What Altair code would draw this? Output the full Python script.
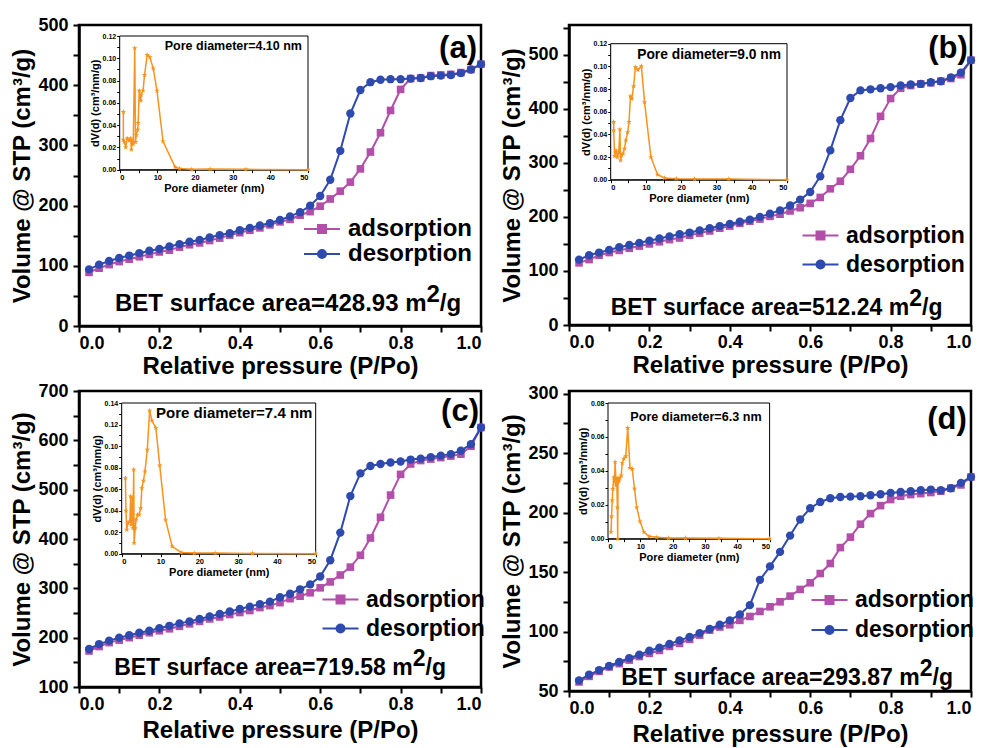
import altair as alt
import pandas as pd

FONT = "Liberation Sans"
C_ADS = "#B24FA8"
C_DES = "#2F4AAE"
C_PSD = "#F7931E"

# relative pressure grid (P/Po)
P = [0.025, 0.05, 0.075, 0.1, 0.125, 0.15, 0.175, 0.2, 0.225, 0.25,
     0.275, 0.3, 0.325, 0.35, 0.375, 0.4, 0.425, 0.45, 0.475, 0.5,
     0.525, 0.55, 0.575, 0.6, 0.625, 0.65, 0.675, 0.7, 0.725, 0.75,
     0.775, 0.8, 0.825, 0.85, 0.875, 0.9, 0.925, 0.95, 0.975, 1.0]

ADS_A = [89, 96, 102, 107, 111, 115, 119, 123, 126, 131, 135, 138, 142, 146, 151, 155, 159, 163, 168, 173,
         177, 184, 190, 199, 211, 224, 239, 261, 289, 321, 358, 393, 411, 412, 416, 417, 418, 421, 426, 435]
DES_A = [94, 102, 108, 113, 117, 121, 125, 128, 132, 136, 140, 143, 147, 151, 154, 159, 163, 167, 171, 176,
         182, 189, 200, 216, 243, 291, 353, 392, 405, 409, 410, 410, 411, 412, 415, 416, 417, 420, 426, 435]
ADS_B = [115, 121, 129, 134, 138, 142, 146, 150, 154, 158, 161, 166, 170, 174, 179, 183, 188, 192, 196, 201,
         205, 211, 217, 225, 236, 252, 266, 288, 313, 345, 386, 419, 438, 443, 446, 448, 451, 456, 463, 490]
DES_B = [121, 129, 134, 139, 144, 148, 152, 156, 160, 164, 168, 171, 175, 179, 183, 187, 191, 195, 200, 206,
         212, 221, 232, 246, 275, 323, 379, 420, 434, 436, 438, 440, 443, 445, 446, 449, 451, 458, 467, 490]
ADS_C = [173, 182, 190, 195, 200, 205, 210, 214, 218, 223, 228, 233, 238, 242, 247, 251, 255, 261, 265, 271,
         279, 284, 291, 301, 313, 327, 343, 367, 402, 444, 489, 531, 552, 559, 562, 565, 568, 572, 588, 626]
DES_C = [177, 187, 194, 200, 205, 210, 214, 219, 224, 229, 233, 238, 243, 248, 253, 258, 263, 268, 273, 282,
         289, 298, 308, 324, 357, 413, 487, 533, 548, 552, 555, 557, 561, 563, 566, 569, 572, 579, 592, 626]
ADS_D = [57.6, 62.3, 66.5, 70.2, 73, 76, 79, 81.6, 84.1, 87.5, 90, 93.4, 97, 101.2, 103.8, 105.7, 109.4, 112.7,
         116.9, 120.8, 125, 129.8, 135.4, 141, 148.8, 157.2, 170.6, 179.4, 190.3, 199.2, 205.9, 211, 213.8,
         215.2, 216, 216.9, 218, 220.5, 223.3, 230]
DES_D = [58.9, 63.7, 67.6, 71, 74.4, 77.7, 80.5, 83.9, 86.4, 89.5, 92.6, 95.4, 98.7, 102.1, 105.7, 109.4, 114.4,
         122.2, 143.5, 154.8, 167, 180.7, 194.2, 203.7, 209, 212.1, 213.2, 213.5, 213.8, 214.6, 215.5, 216.6,
         217.4, 218, 218.8, 219.4, 218.8, 220.5, 225, 230]

# pore size distributions (inset)
PD_A = [0.97, 0.97, 1.2, 1.6, 2.0, 2.5, 2.9, 3.1, 3.4, 3.6, 4.0, 4.2, 4.4, 4.8, 4.9, 5.2, 5.6, 5.7, 6.2, 6.6,
        7.3, 8.0, 8.9, 9.9, 11.5, 14.7, 15.9, 19.1, 24.0, 33.5, 50]
PV_A = [0.0518, 0.027, 0.025, 0.020, 0.028, 0.026, 0.028, 0.018, 0.026, 0.023, 0.109, 0.025, 0.031, 0.036,
        0.042, 0.071, 0.062, 0.067, 0.071, 0.085, 0.103, 0.101, 0.091, 0.071, 0.0254, 0.0024, 0.001, 0.0003,
        0.0006, 0.0003, 0.0]
PD_B = [0.85, 0.85, 1.1, 1.5, 1.9, 2.3, 2.6, 2.8, 3.1, 3.5, 3.9, 4.3, 4.8, 5.2, 5.6, 6.0, 6.5, 7.0, 7.7, 8.7,
        9.6, 11.4, 13.3, 15.3, 18.6, 23.8, 33.5, 50]
PV_B = [0.0509, 0.0435, 0.0209, 0.0259, 0.020, 0.0244, 0.0444, 0.0171, 0.0215, 0.023, 0.0274, 0.0347, 0.042,
        0.0509, 0.0735, 0.0715, 0.0826, 0.0994, 0.097, 0.1003, 0.0685, 0.020, 0.0044, 0.0015, 0.0009, 0.0006,
        0.0006, 0.0]
PD_C = [0.95, 1.1, 1.3, 1.6, 2.1, 2.3, 2.5, 2.8, 2.9, 3.1, 3.2, 3.5, 3.7, 4.1, 4.5, 4.9, 5.2, 5.6, 6.0, 6.6,
        7.2, 7.8, 8.8, 9.8, 11.3, 13.0, 15.3, 18.7, 24.1, 33.7, 50]
PV_C = [0.0703, 0.040, 0.0223, 0.0285, 0.030, 0.0533, 0.027, 0.0517, 0.0238, 0.078, 0.0099, 0.0238, 0.0316,
        0.0362, 0.0362, 0.0424, 0.061, 0.0678, 0.0765, 0.0966, 0.1329, 0.1236, 0.1168, 0.0821, 0.0316, 0.0068,
        0.0012, 0.0006, 0.0006, 0.0003, 0.0]
PD_D = [0.93, 1.1, 1.3, 1.5, 1.8, 2.0, 2.2, 2.5, 2.7, 2.9, 3.0, 3.1, 3.4, 3.7, 4.1, 4.4, 4.9, 5.5, 6.1, 6.8,
        7.5, 8.2, 8.9, 9.9, 11.1, 12.7, 15.1, 18.7, 24.0, 34.3, 50]
PV_D = [0.0039, 0.0132, 0.0226, 0.0293, 0.0362, 0.0334, 0.0452, 0.0314, 0.0354, 0.0185, 0.0, 0.0358, 0.0338,
        0.0358, 0.0373, 0.0446, 0.0472, 0.0486, 0.0653, 0.0417, 0.0411, 0.0295, 0.0185, 0.0102, 0.0039, 0.0014,
        0.0008, 0.0004, 0.0004, 0.0002, 0.0]

# tick values
X_TICKS = [0.0, 0.1, 0.2, 0.3, 0.4, 0.5, 0.6, 0.7, 0.8, 0.9, 1.0]
Y_TICKS_A = [0, 50, 100, 150, 200, 250, 300, 350, 400, 450, 500]
Y_TICKS_B = [0, 50, 100, 150, 200, 250, 300, 350, 400, 450, 500, 550]
Y_TICKS_C = [100, 150, 200, 250, 300, 350, 400, 450, 500, 550, 600, 650, 700]
Y_TICKS_D = [50, 75, 100, 125, 150, 175, 200, 225, 250, 275, 300]
IX_TICKS = [0, 5, 10, 15, 20, 25, 30, 35, 40, 45, 50]
IY_TICKS_12 = [0.0, 0.01, 0.02, 0.03, 0.04, 0.05, 0.06, 0.07, 0.08, 0.09, 0.10, 0.11, 0.12]
IY_TICKS_14 = IY_TICKS_12 + [0.13, 0.14]
IY_TICKS_08 = [0.0, 0.01, 0.02, 0.03, 0.04, 0.05, 0.06, 0.07, 0.08]

SERIES = ["adsorption", "desorption"]
BET = ["428.93", "512.24", "719.58", "293.87"]
PORE = ["4.10", "9.0", "7.4", "6.3"]
TAGS = ["(a)", "(b)", "(c)", "(d)"]

SQ_LEG = "M-4.5,0H4.5M-1,-1H1V1H-1Z"
CI_LEG = "M-4.5,0H4.5M1,0A1,1,0,1,1,-1,0A1,1,0,1,1,1,0Z"
STAR = ("M0,-1L0.2245,-0.309L0.9511,-0.309L0.3633,0.118L0.5878,0.809L0,0.382"
        "L-0.5878,0.809L-0.3633,0.118L-0.9511,-0.309L-0.2245,-0.309Z")

W = 402
ONE = pd.DataFrame({"k": [0]})


def txt(text, x, y, size, align="left", dy=0, color="black"):
    return alt.Chart(ONE).mark_text(
        text=text, align=align, baseline="alphabetic", font=FONT, fontWeight="bold",
        fontSize=size, color=color, dy=dy
    ).encode(x=alt.value(x), y=alt.value(y))


def panel(c):
    H = c["H"]
    df = pd.DataFrame({
        "P": P + P,
        "V": c["ads"] + c["des"],
        "series": ["adsorption"] * len(P) + ["desorption"] * len(P),
    })
    X = alt.X("P:Q", scale=alt.Scale(domain=[0, 1], nice=False, zero=False),
              axis=alt.Axis(values=X_TICKS, title="Relative pressure (P/Po)",
                            labelExpr="round(datum.value*10) % 2 == 0 ? format(datum.value, '.1f') : ''",
                            labelFontSize=18, titleFontSize=24, tickSize=6, tickWidth=2,
                            domainWidth=2.5, labelPadding=2, titlePadding=c["xtp"]))
    Y = alt.Y("V:Q", scale=alt.Scale(domain=c["ydom"], nice=False, zero=False),
              axis=alt.Axis(values=c["yticks"], title="Volume @ STP (cm³/g)",
                            labelExpr=f"datum.value % {c['ystep']} == 0 ? format(datum.value, 'd') : ''",
                            labelFontSize=18, titleFontSize=24, tickSize=6, tickWidth=2,
                            domainWidth=2.5, labelPadding=5, titleX=-50, titleBaseline="alphabetic"))
    base = alt.Chart(df)
    ads = base.transform_filter("datum.series == 'adsorption'")
    des = base.transform_filter("datum.series == 'desorption'")
    l_ads = ads.mark_line(color=C_ADS, strokeWidth=2).encode(x=X, y=Y)
    p_ads = ads.mark_point(shape="square", filled=True, size=58, color=C_ADS, opacity=1).encode(x=X, y=Y)
    l_des = des.mark_line(color=C_DES, strokeWidth=2).encode(x=X, y=Y)
    p_des = des.mark_point(shape="circle", filled=True, size=70, color=C_DES, opacity=1).encode(x=X, y=Y)

    leg = alt.Legend(title=None, orient="none", legendX=c["legx"], legendY=c["legy"],
                     labelFont=FONT, labelFontSize=c["legfs"], labelFontWeight="bold",
                     labelColor="black", symbolSize=64, symbolStrokeWidth=2,
                     labelOffset=14, rowPadding=c["legrp"], padding=0)
    dummy = base.transform_filter("datum.P < 0").mark_point(filled=True, opacity=1).encode(
        fill=alt.Fill("series:N", scale=alt.Scale(domain=SERIES, range=[C_ADS, C_DES]), legend=leg),
        stroke=alt.Stroke("series:N", scale=alt.Scale(domain=SERIES, range=[C_ADS, C_DES]), legend=leg),
        shape=alt.Shape("series:N", scale=alt.Scale(domain=SERIES, range=[SQ_LEG, CI_LEG]), legend=leg),
    )

    tag = txt(c["tag"], c["tagx"], c["tagy"], 31, align="center")
    bet1 = txt(f"BET surface area={c['bet']} m", c["betx"], c["bety"], c["betfs"], align="right")
    bet2 = txt("2", c["betx"], c["bety"], c["betfs"], dy=-9)
    bet3 = txt("/g", c["betx"] + 0.556 * c["betfs"], c["bety"], c["betfs"])
    main = alt.layer(l_ads, p_ads, l_des, p_des, dummy, tag, bet1, bet2, bet3)

    # inset
    x0, x1, yt, yb = c["ibox"]
    idf = pd.DataFrame({"D": c["pd"], "V": c["pv"], "i": list(range(len(c["pd"])))})
    box = pd.DataFrame({"D": [0], "D2": [50], "V": [0.0], "V2": [c["iymax"]]})
    IX = alt.X("D:Q", scale=alt.Scale(domain=[0, 50], range=[x0, x1], nice=False, zero=False),
               axis=alt.Axis(orient="bottom", offset=yb - H, values=IX_TICKS,
                             labelExpr="datum.value % 10 == 0 ? format(datum.value, 'd') : ''",
                             title="Pore diameter (nm)", labelFontSize=7.5, titleFontSize=11,
                             tickSize=3, tickWidth=1, domainWidth=1, labelPadding=1, titlePadding=1))
    IY = alt.Y("V:Q", scale=alt.Scale(domain=[0, c["iymax"]], range=[yb, yt], nice=False, zero=False),
               axis=alt.Axis(orient="left", offset=-x0, values=c["iyticks"],
                             labelExpr="round(datum.value*100) % 2 == 0 ? format(datum.value, '.2f') : ''",
                             title="dV(d) (cm³/nm/g)", labelFontSize=7, titleFontSize=11,
                             tickSize=3, tickWidth=1, domainWidth=1, labelPadding=1, titlePadding=2))
    frame = alt.Chart(box).mark_rect(fill="white", stroke="black", strokeWidth=1).encode(
        x=IX, x2="D2:Q", y=IY, y2="V2:Q")
    iline = alt.Chart(idf).mark_line(color=C_PSD, strokeWidth=1.5).encode(x=IX, y=IY, order="i:Q")
    ipts = alt.Chart(idf).mark_point(shape=STAR, filled=True, size=34, color=C_PSD, opacity=1).encode(x=IX, y=IY)
    ptxt = txt(f"Pore diameter={PORE[c['k']]} nm", c["porex"], c["porey"], c["porefs"], align="right")
    inset = alt.layer(frame, iline, ipts, ptxt)

    return alt.layer(main, inset).resolve_scale(x="independent", y="independent").properties(width=W, height=H)


cfgs = [
    dict(k=0, H=301, ads=ADS_A, des=DES_A, ydom=[0, 500], yticks=Y_TICKS_A, ystep=100, xtp=2,
         legx=231, legy=192, legfs=24, legrp=1, tag=TAGS[0], tagx=379, tagy=33,
         bet=BET[0], betx=347.5, bety=286, betfs=24,
         ibox=(40.7, 229, 11, 144.7), pd=PD_A, pv=PV_A, iymax=0.12, iyticks=IY_TICKS_12,
         porex=223, porey=25.3, porefs=12.5),
    dict(k=1, H=300, ads=ADS_B, des=DES_B, ydom=[0, 555], yticks=Y_TICKS_B, ystep=100, xtp=2,
         legx=240, legy=199, legfs=23, legrp=5, tag=TAGS[1], tagx=379, tagy=33,
         bet=BET[1], betx=340.2, bety=290, betfs=23,
         ibox=(41.7, 218, 18.7, 154.7), pd=PD_B, pv=PV_B, iymax=0.12, iyticks=IY_TICKS_12,
         porex=212, porey=34.3, porefs=13.8),
    dict(k=2, H=296, ads=ADS_C, des=DES_C, ydom=[100, 700], yticks=Y_TICKS_C, ystep=100, xtp=5,
         legx=250, legy=197, legfs=23, legrp=5, tag=TAGS[2], tagx=381, tagy=30,
         bet=BET[2], betx=333.7, bety=283.7, betfs=23,
         ibox=(42.7, 236.7, 12, 162.7), pd=PD_C, pv=PV_C, iymax=0.14, iyticks=IY_TICKS_14,
         porex=233.4, porey=27, porefs=15),
    dict(k=3, H=300, ads=ADS_D, des=DES_D, ydom=[50, 302.3], yticks=Y_TICKS_D, ystep=50, xtp=5,
         legx=249, legy=197.5, legfs=23, legrp=6, tag=TAGS[3], tagx=378, tagy=38,
         bet=BET[3], betx=350.7, bety=293.7, betfs=23,
         ibox=(39, 200.6, 12, 147.7), pd=PD_D, pv=PV_D, iymax=0.08, iyticks=IY_TICKS_08,
         porex=192.6, porey=30.3, porefs=12.6),
]

pa, pb, pc, pd_ = [panel(c) for c in cfgs]

RES = dict(fill="independent", stroke="independent", shape="independent")
row1 = alt.hconcat(pa, pb, spacing=88, bounds="flush").resolve_scale(**RES).resolve_legend(**RES)
row2 = alt.hconcat(pc, pd_, spacing=88, bounds="flush").resolve_scale(**RES).resolve_legend(**RES)
chart = alt.vconcat(row1, row2, spacing=0).resolve_scale(**RES).resolve_legend(**RES)

chart = chart.properties(
    padding={"left": 0, "top": 6, "right": 0, "bottom": 0},
    background="white",
).configure_view(stroke="black", strokeWidth=2.5).configure_axis(
    domainColor="black", tickColor="black", labelColor="black", titleColor="black",
    labelFont=FONT, titleFont=FONT, labelFontWeight="bold", titleFontWeight="bold", grid=False,
)

chart.save("out.html", embed_options={"renderer": "svg", "actions": False})
